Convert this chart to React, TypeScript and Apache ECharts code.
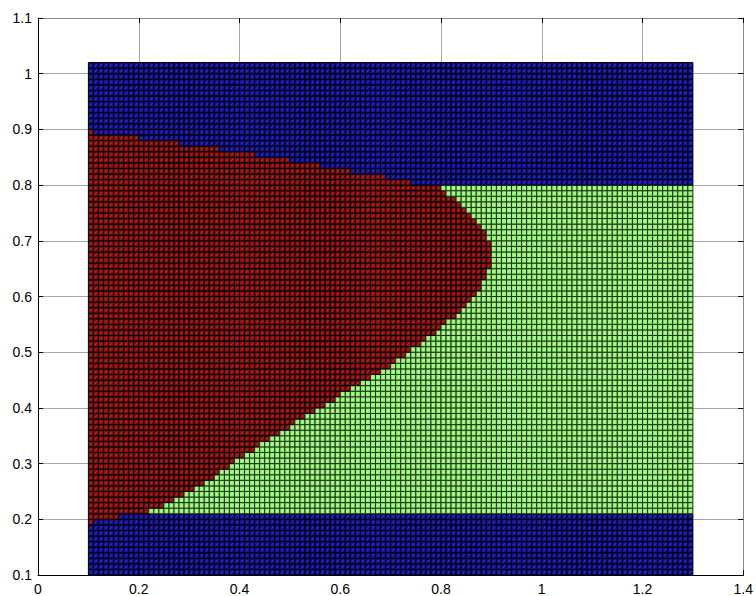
import React, { useEffect, useRef } from "react";
import * as echarts from "echarts";

// Sampling grid of the classified plane (hundredths)
const CELL = 0.01;
const X_FROM = 10; // 0.10
const X_TO = 130; // 1.30
const Y_FROM = 10; // 0.10
const Y_TO = 102; // 1.02

// Axis ranges and tick steps
const X_RANGE = [0, 1.4];
const Y_RANGE = [0.1, 1.1];
const X_STEP = 0.2;
const Y_STEP = 0.1;

// Upper staircase of class 2 above y = 0.80: [column upper bound x, top y]
const upperSteps: [number, number][] = [
  [0.11, 0.9],
  [0.2, 0.89],
  [0.28, 0.88],
  [0.36, 0.87],
  [0.43, 0.86],
  [0.5, 0.85],
  [0.56, 0.84],
  [0.62, 0.83],
  [0.69, 0.82],
  [0.74, 0.81],
  [0.8, 0.8],
];

// Right edge of class 2 for each row, rows starting at y = 0.19
const edgeRowStart = 0.19;
const rightEdge = [
  0.11, 0.16, 0.22, 0.25, 0.27, 0.29, 0.31, 0.33, 0.35, 0.36, 0.38, 0.39, 0.41,
  0.43, 0.44, 0.46, 0.48, 0.5, 0.51, 0.53, 0.55, 0.57, 0.59, 0.6, 0.62, 0.64,
  0.66, 0.68, 0.7, 0.71, 0.73, 0.74, 0.76, 0.77, 0.79, 0.8, 0.81, 0.83, 0.84,
  0.85, 0.86, 0.87, 0.88, 0.88, 0.89, 0.89, 0.9, 0.9, 0.9, 0.9, 0.9, 0.89,
  0.89, 0.88, 0.87, 0.86, 0.85, 0.84, 0.83, 0.81, 0.8,
];

// Rows holding class 1 (between these bounds, right of the edge)
const greenFrom = 0.21;
const greenTo = 0.8;

// Class colours: 0 = blue, 1 = green, 2 = red
const FILL = ["#10109a", "#98f47a", "#8a0c0c"];
const SHINE = ["#3a3ad8", "#b8ff9c", "#c83030"];
const EDGE = ["#000000", "#1c3414", "#000000"];

function classify(xi: number, yj: number): number {
  const topBand = Math.round(greenTo * 100);
  if (yj >= topBand) {
    for (const [xEnd, yTop] of upperSteps) {
      if (xi < Math.round(xEnd * 100)) {
        return yj < Math.round(yTop * 100) ? 2 : 0;
      }
    }
    return 0;
  }
  const row = yj - Math.round(edgeRowStart * 100);
  if (row >= 0 && row < rightEdge.length) {
    if (xi < Math.round(rightEdge[row] * 100)) return 2;
    if (yj >= Math.round(greenFrom * 100)) return 1;
  }
  return 0;
}

function buildCells(): number[][] {
  const out: number[][] = [];
  for (let yj = Y_FROM; yj < Y_TO; yj++) {
    for (let xi = X_FROM; xi < X_TO; xi++) {
      out.push([xi / 100, yj / 100, classify(xi, yj)]);
    }
  }
  return out;
}

const FONT = "'Liberation Sans', Arial, Helvetica, sans-serif";

export default function App() {
  const ref = useRef<HTMLDivElement>(null);

  useEffect(() => {
    if (!ref.current) return;
    const chart = echarts.init(ref.current, undefined, { renderer: "svg" });
    const cells = buildCells();

    const frameColor = "#8a8a8a";
    const gridColor = "#a6a6a6";

    chart.setOption({
      animation: false,
      backgroundColor: "#ffffff",
      grid: { left: 38, right: 8, top: 18, bottom: 19, containLabel: false },
      xAxis: [
        {
          type: "value",
          min: X_RANGE[0],
          max: X_RANGE[1],
          interval: X_STEP,
          position: "bottom",
          axisLine: { show: true, onZero: false, lineStyle: { color: "#000", width: 1 } },
          axisTick: { show: true, inside: true, length: 5, lineStyle: { color: "#000" } },
          axisLabel: { color: "#000", fontSize: 14, fontFamily: FONT, margin: 7 },
          splitLine: { show: true, lineStyle: { color: gridColor, width: 1 } },
        },
        {
          type: "value",
          min: X_RANGE[0],
          max: X_RANGE[1],
          interval: X_STEP,
          position: "top",
          axisLine: { show: true, onZero: false, lineStyle: { color: frameColor, width: 1 } },
          axisTick: { show: true, inside: true, length: 5, lineStyle: { color: "#000" } },
          axisLabel: { show: false },
          splitLine: { show: false },
        },
      ],
      yAxis: [
        {
          type: "value",
          min: Y_RANGE[0],
          max: Y_RANGE[1],
          interval: Y_STEP,
          position: "left",
          axisLine: { show: true, onZero: false, lineStyle: { color: "#000", width: 1 } },
          axisTick: { show: true, inside: true, length: 5, lineStyle: { color: "#000" } },
          axisLabel: { color: "#000", fontSize: 14, fontFamily: FONT, margin: 6 },
          splitLine: { show: true, lineStyle: { color: gridColor, width: 1 } },
        },
        {
          type: "value",
          min: Y_RANGE[0],
          max: Y_RANGE[1],
          interval: Y_STEP,
          position: "right",
          axisLine: { show: true, onZero: false, lineStyle: { color: frameColor, width: 1 } },
          axisTick: { show: true, inside: true, length: 5, lineStyle: { color: "#000" } },
          axisLabel: { show: false },
          splitLine: { show: false },
        },
      ],
      series: [
        {
          type: "custom",
          xAxisIndex: 0,
          yAxisIndex: 0,
          progressive: 0,
          data: cells,
          renderItem: (_params: any, api: any) => {
            const x0 = api.value(0);
            const y0 = api.value(1);
            const c = api.value(2);
            const a = api.coord([x0, y0 + CELL]);
            const b = api.coord([x0 + CELL, y0]);
            return {
              type: "group",
              children: [
                {
                  type: "rect",
                  shape: { x: a[0], y: a[1], width: b[0] - a[0], height: b[1] - a[1] },
                  style: { fill: FILL[c], stroke: EDGE[c], lineWidth: 1 },
                },
                {
                  type: "line",
                  shape: { x1: a[0] + 1.6, y1: b[1] - 1.6, x2: b[0] - 1.6, y2: a[1] + 1.6 },
                  style: { stroke: SHINE[c], lineWidth: 1 },
                },
              ],
            };
          },
        },
      ],
    });

    return () => chart.dispose();
  }, []);

  return (
    <div
      ref={ref}
      style={{ position: "absolute", left: 0, top: 0, width: 756, height: 596, background: "#fff" }}
    />
  );
}
